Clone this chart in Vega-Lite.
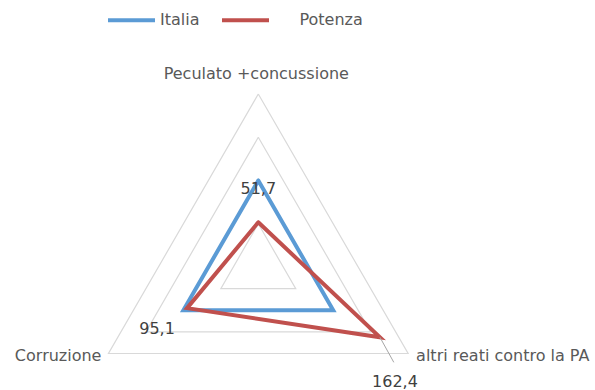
{
  "$schema": "https://vega.github.io/schema/vega-lite/v6.json",
  "width": 595,
  "height": 390,
  "padding": 0,
  "autosize": {"type": "none"},
  "background": "white",
  "config": {
    "view": {"stroke": null},
    "locale": {"number": {"decimal": ",", "thousands": ".", "grouping": [3], "currency": ["", " €"]}},
    "text": {"font": "DejaVu Sans"}
  },
  "datasets": {
    "series": [
      {"serie": "Italia", "cat": "Peculato +concussione", "ord": 0, "v": 100},
      {"serie": "Italia", "cat": "altri reati contro la PA", "ord": 1, "v": 100},
      {"serie": "Italia", "cat": "Corruzione", "ord": 2, "v": 100},
      {"serie": "Italia", "cat": "Peculato +concussione", "ord": 3, "v": 100},
      {"serie": "Potenza", "cat": "Peculato +concussione", "ord": 0, "v": 51.7},
      {"serie": "Potenza", "cat": "altri reati contro la PA", "ord": 1, "v": 162.4},
      {"serie": "Potenza", "cat": "Corruzione", "ord": 2, "v": 95.1},
      {"serie": "Potenza", "cat": "Peculato +concussione", "ord": 3, "v": 51.7}
    ],
    "grid": [
      {"level": 50, "ord": 0}, {"level": 50, "ord": 1}, {"level": 50, "ord": 2}, {"level": 50, "ord": 3},
      {"level": 100, "ord": 0}, {"level": 100, "ord": 1}, {"level": 100, "ord": 2}, {"level": 100, "ord": 3},
      {"level": 150, "ord": 0}, {"level": 150, "ord": 1}, {"level": 150, "ord": 2}, {"level": 150, "ord": 3},
      {"level": 200, "ord": 0}, {"level": 200, "ord": 1}, {"level": 200, "ord": 2}, {"level": 200, "ord": 3}
    ],
    "cats": [
      {"cat": "Peculato +concussione", "ord": 0, "v": 200},
      {"cat": "altri reati contro la PA", "ord": 1, "v": 200},
      {"cat": "Corruzione", "ord": 2, "v": 200}
    ]
  },
  "resolve": {"scale": {"x": "shared", "y": "shared"}},
  "layer": [
    {
      "data": {"name": "grid"},
      "transform": [
        {"calculate": "datum.ord * 2 * PI / 3", "as": "ang"},
        {"calculate": "datum.level * sin(datum.ang)", "as": "x"},
        {"calculate": "datum.level * cos(datum.ang)", "as": "y"}
      ],
      "mark": {"type": "line", "stroke": "#D9D9D9", "strokeWidth": 1.2},
      "encoding": {
        "x": {"field": "x", "type": "quantitative", "scale": {"domain": [-298.6, 389.25], "nice": false, "zero": false}, "axis": null},
        "y": {"field": "y", "type": "quantitative", "scale": {"domain": [-142.2, 308.7], "nice": false, "zero": false}, "axis": null},
        "detail": {"field": "level", "type": "nominal"},
        "order": {"field": "ord", "type": "quantitative"}
      }
    },
    {
      "data": {"name": "series"},
      "transform": [
        {"calculate": "datum.ord * 2 * PI / 3", "as": "ang"},
        {"calculate": "datum.v * sin(datum.ang)", "as": "x"},
        {"calculate": "datum.v * cos(datum.ang)", "as": "y"}
      ],
      "mark": {"type": "line", "strokeWidth": 4, "strokeJoin": "miter", "strokeCap": "round"},
      "encoding": {
        "x": {"field": "x", "type": "quantitative"},
        "y": {"field": "y", "type": "quantitative"},
        "order": {"field": "ord", "type": "quantitative"},
        "color": {
          "field": "serie", "type": "nominal",
          "scale": {"domain": ["Italia", "Potenza"], "range": ["#5B9BD5", "#C0504D"]},
          "legend": {
            "title": null, "orient": "none", "direction": "horizontal",
            "legendX": 106, "legendY": -5.5, "padding": 0,
            "symbolType": "stroke", "symbolSize": 2209, "symbolStrokeWidth": 4,
            "labelFont": "DejaVu Sans", "labelFontSize": 16, "labelColor": "#595959",
            "labelOffset": 3, "columnPadding": 14,
            "labelExpr": "datum.label == 'Potenza' ? '\u200b\u00a0\u00a0\u00a0\u00a0\u00a0Potenza' : datum.label"
          }
        }
      }
    },
    {
      "data": {"name": "series"},
      "transform": [
        {"filter": "datum.serie == 'Potenza' && datum.ord == 1"},
        {"calculate": "datum.ord * 2 * PI / 3", "as": "ang"},
        {"calculate": "datum.v * sin(datum.ang)", "as": "x"},
        {"calculate": "datum.v * cos(datum.ang)", "as": "y"},
        {"calculate": "datum.x + 16", "as": "x2"},
        {"calculate": "datum.y - 29", "as": "y2"}
      ],
      "mark": {"type": "rule", "stroke": "#A6A6A6", "strokeWidth": 1},
      "encoding": {
        "x": {"field": "x", "type": "quantitative"},
        "y": {"field": "y", "type": "quantitative"},
        "x2": {"field": "x2"},
        "y2": {"field": "y2"}
      }
    },
    {
      "data": {"name": "series"},
      "transform": [
        {"filter": "datum.serie == 'Potenza' && datum.ord == 0"},
        {"calculate": "datum.ord * 2 * PI / 3", "as": "ang"},
        {"calculate": "datum.v * sin(datum.ang)", "as": "x"},
        {"calculate": "datum.v * cos(datum.ang)", "as": "y"}
      ],
      "mark": {"type": "text", "fontSize": 16, "color": "#404040", "align": "center", "baseline": "middle", "dy": -33},
      "encoding": {
        "x": {"field": "x", "type": "quantitative"},
        "y": {"field": "y", "type": "quantitative"},
        "text": {"field": "v", "type": "quantitative", "format": ".1f"}
      }
    },
    {
      "data": {"name": "series"},
      "transform": [
        {"filter": "datum.serie == 'Potenza' && datum.ord == 1"},
        {"calculate": "datum.ord * 2 * PI / 3", "as": "ang"},
        {"calculate": "datum.v * sin(datum.ang)", "as": "x"},
        {"calculate": "datum.v * cos(datum.ang)", "as": "y"}
      ],
      "mark": {"type": "text", "fontSize": 16, "color": "#404040", "align": "center", "baseline": "middle", "dx": 15, "dy": 45},
      "encoding": {
        "x": {"field": "x", "type": "quantitative"},
        "y": {"field": "y", "type": "quantitative"},
        "text": {"field": "v", "type": "quantitative", "format": ".1f"}
      }
    },
    {
      "data": {"name": "series"},
      "transform": [
        {"filter": "datum.serie == 'Potenza' && datum.ord == 2"},
        {"calculate": "datum.ord * 2 * PI / 3", "as": "ang"},
        {"calculate": "datum.v * sin(datum.ang)", "as": "x"},
        {"calculate": "datum.v * cos(datum.ang)", "as": "y"}
      ],
      "mark": {"type": "text", "fontSize": 16, "color": "#404040", "align": "center", "baseline": "middle", "dx": -30, "dy": 21},
      "encoding": {
        "x": {"field": "x", "type": "quantitative"},
        "y": {"field": "y", "type": "quantitative"},
        "text": {"field": "v", "type": "quantitative", "format": ".1f"}
      }
    },
    {
      "data": {"name": "cats"},
      "transform": [
        {"filter": "datum.ord == 0"},
        {"calculate": "datum.ord * 2 * PI / 3", "as": "ang"},
        {"calculate": "datum.v * sin(datum.ang)", "as": "x"},
        {"calculate": "datum.v * cos(datum.ang)", "as": "y"}
      ],
      "mark": {"type": "text", "fontSize": 16, "color": "#595959", "align": "center", "baseline": "middle", "dx": -2, "dy": -20},
      "encoding": {
        "x": {"field": "x", "type": "quantitative"},
        "y": {"field": "y", "type": "quantitative"},
        "text": {"field": "cat"}
      }
    },
    {
      "data": {"name": "cats"},
      "transform": [
        {"filter": "datum.ord == 1"},
        {"calculate": "datum.ord * 2 * PI / 3", "as": "ang"},
        {"calculate": "datum.v * sin(datum.ang)", "as": "x"},
        {"calculate": "datum.v * cos(datum.ang)", "as": "y"}
      ],
      "mark": {"type": "text", "fontSize": 16, "color": "#595959", "align": "left", "baseline": "middle", "dx": 8, "dy": 3},
      "encoding": {
        "x": {"field": "x", "type": "quantitative"},
        "y": {"field": "y", "type": "quantitative"},
        "text": {"field": "cat"}
      }
    },
    {
      "data": {"name": "cats"},
      "transform": [
        {"filter": "datum.ord == 2"},
        {"calculate": "datum.ord * 2 * PI / 3", "as": "ang"},
        {"calculate": "datum.v * sin(datum.ang)", "as": "x"},
        {"calculate": "datum.v * cos(datum.ang)", "as": "y"}
      ],
      "mark": {"type": "text", "fontSize": 16, "color": "#595959", "align": "right", "baseline": "middle", "dx": -7, "dy": 3},
      "encoding": {
        "x": {"field": "x", "type": "quantitative"},
        "y": {"field": "y", "type": "quantitative"},
        "text": {"field": "cat"}
      }
    }
  ]
}
